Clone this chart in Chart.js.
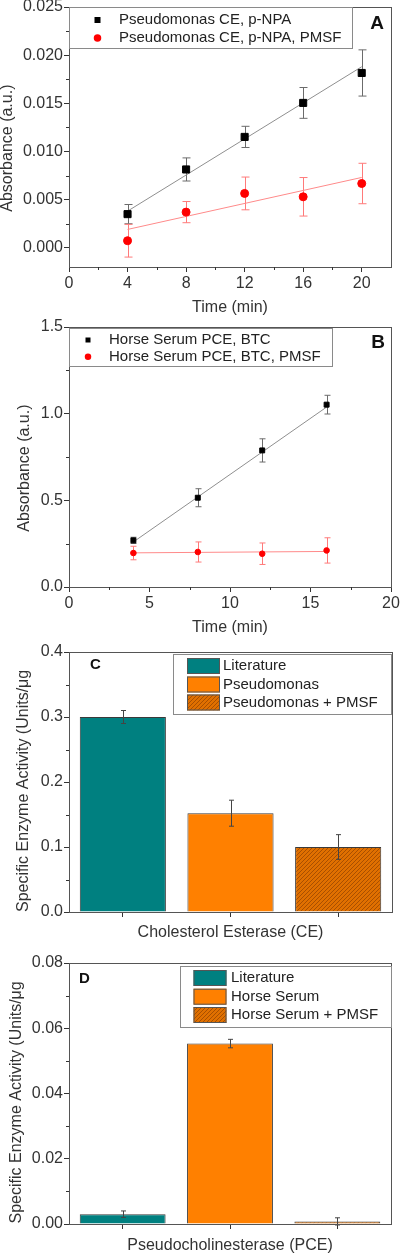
<!DOCTYPE html>
<html>
<head>
<meta charset="utf-8">
<script src="https://cdn.jsdelivr.net/npm/chart.js"></script>
<style>
  html, body { margin: 0; padding: 0; background: #fff; }
  #wrap { position: relative; width: 400px; height: 1254px; overflow: hidden; }
  canvas { position: absolute; left: 0; }
</style>
</head>
<body>
<div id="wrap">
  <canvas id="chartA" width="400" height="318" style="top:0px"></canvas>
  <canvas id="chartB" width="400" height="322" style="top:318px"></canvas>
  <canvas id="chartC" width="400" height="305" style="top:640px"></canvas>
  <canvas id="chartD" width="400" height="309" style="top:945px"></canvas>
</div>
<script>
// ---- panel A : Pseudomonas CE with p-NPA ----
const timeA = [4, 8, 12, 16, 20];
const absA = [0.00349, 0.00813, 0.01151, 0.01504, 0.01815];
const errA = [0.0010, 0.0012, 0.0011, 0.0016, 0.0024];
const absA_pmsf = [0.00073, 0.0037, 0.00564, 0.00529, 0.00667];
const errA_pmsf = [0.0017, 0.0011, 0.0017, 0.0020, 0.0021];
const fitA = [0.0038, 0.0188];        // fitted line at first / last time
const fitA_pmsf = [0.0019, 0.0073];
const xTicksA = [0, 4, 8, 12, 16, 20];
const yTicksA = [0, 0.005, 0.010, 0.015, 0.020, 0.025];

// ---- panel B : horse serum PCE with BTC ----
const timeB = [4, 8, 12, 16];
const absB = [0.269, 0.515, 0.788, 1.052];
const errB = [0.018, 0.052, 0.067, 0.054];
const absB_pmsf = [0.196, 0.202, 0.192, 0.211];
const errB_pmsf = [0.039, 0.058, 0.062, 0.073];
const fitB = [0.26, 1.038];
const fitB_pmsf = [0.197, 0.205];
const xTicksB = [0, 5, 10, 15, 20];
const yTicksB = [0, 0.5, 1.0, 1.5];

// ---- panel C : cholesterol esterase activity ----
const groupsC = ["Literature", "Pseudomonas", "Pseudomonas + PMSF"];
const activityC = [0.300, 0.152, 0.100];
const errC = [0.010, 0.020, 0.019];
const yTicksC = [0, 0.1, 0.2, 0.3, 0.4];

// ---- panel D : pseudocholinesterase activity ----
const groupsD = ["Literature", "Horse Serum", "Horse Serum + PMSF"];
const activityD = [0.0030, 0.0553, 0.0008];
const errD = [0.0010, 0.0013, 0.0011];
const yTicksD = [0, 0.02, 0.04, 0.06, 0.08];

const FONT = '"Liberation Sans", Arial, Helvetica, sans-serif';
const AXIS = "#333";
Chart.defaults.font.family = FONT;
Chart.defaults.color = AXIS;

function hatch() {
  const c = document.createElement("canvas");
  c.width = 4;
  c.height = 4;
  const g = c.getContext("2d");
  g.fillStyle = "#e07000";
  g.fillRect(0, 0, 4, 4);
  g.strokeStyle = "#a84f00";
  g.lineWidth = 1;
  g.beginPath();
  g.moveTo(0, 4); g.lineTo(4, 0);
  g.moveTo(-1, 1); g.lineTo(1, -1);
  g.moveTo(3, 5); g.lineTo(5, 3);
  g.stroke();
  return g.createPattern(c, "repeat");
}

// fixed axis size so the plot boxes line up with each other
function fixAxis(size) {
  return function (scale) {
    if (scale.isHorizontal()) scale.height = size;
    else scale.width = size;
    scale.paddingTop = scale.paddingBottom = 0;
    scale.paddingLeft = scale.paddingRight = 0;
  };
}
function useTicks(values) {
  return function (scale) {
    scale.ticks = values.map((v) => ({ value: v }));
  };
}

function drawErrors(chart, o) {
  const ctx = chart.ctx;
  const yScale = chart.scales.y;
  const cap = o.cap || 6;
  chart.data.datasets.forEach((ds, di) => {
    if (!ds.errors) return;
    const meta = chart.getDatasetMeta(di);
    ds.data.forEach((d, i) => {
      const v = d !== null && typeof d === "object" ? d.y : d;
      if (v === null || v === undefined) return;
      const e = ds.errors[i];
      const x = Math.round(meta.data[i].x) + 0.5;
      const top = yScale.getPixelForValue(v + e);
      const bot = yScale.getPixelForValue(v - e);
      ctx.save();
      ctx.strokeStyle = ds.errorColor || "#555";
      ctx.lineWidth = 1;
      ctx.beginPath();
      ctx.moveTo(x, top); ctx.lineTo(x, bot);
      ctx.moveTo(x - cap / 2, top); ctx.lineTo(x + cap / 2, top);
      ctx.moveTo(x - cap / 2, bot); ctx.lineTo(x + cap / 2, bot);
      ctx.stroke();
      ctx.restore();
    });
  });
}

const errorBars = {
  id: "errorBars",
  beforeDatasetsDraw(chart, args, o) {
    if (o.layer === "back") drawErrors(chart, o);
  },
  afterDatasetsDraw(chart, args, o) {
    if (o.layer === "front") drawErrors(chart, o);
  },
};

// box round the plot plus small minor ticks half way between the majors
const frame = {
  id: "frame",
  afterDraw(chart) {
    const { ctx, chartArea: a } = chart;
    ctx.save();
    ctx.strokeStyle = "#555";
    ctx.lineWidth = 1;
    ctx.strokeRect(Math.round(a.left) + 0.5, Math.round(a.top) + 0.5,
      Math.round(a.right - a.left), Math.round(a.bottom - a.top));
    ctx.strokeStyle = AXIS;
    ["x", "y"].forEach((id) => {
      const s = chart.scales[id];
      if (s.type !== "linear") return;
      const t = s.ticks.map((k) => k.value);
      ctx.beginPath();
      for (let i = 0; i < t.length - 1; i++) {
        const p = Math.round(s.getPixelForValue((t[i] + t[i + 1]) / 2)) + 0.5;
        if (id === "x") {
          ctx.moveTo(p, a.bottom); ctx.lineTo(p, a.bottom + 3);
        } else {
          ctx.moveTo(a.left, p); ctx.lineTo(a.left - 3, p);
        }
      }
      ctx.stroke();
    });
    ctx.restore();
  },
};

const boxLegend = {
  id: "boxLegend",
  afterDraw(chart, args, o) {
    if (!o.box) return;
    const ctx = chart.ctx;
    const [bx, by, bw, bh] = o.box;
    ctx.save();
    ctx.fillStyle = "#fff";
    ctx.fillRect(bx, by, bw, bh);
    ctx.strokeStyle = "#8a8a8a";
    ctx.lineWidth = 1;
    ctx.strokeRect(Math.round(bx) + 0.5, Math.round(by) + 0.5, Math.round(bw), Math.round(bh));
    ctx.font = "15px " + FONT;
    ctx.textBaseline = "middle";
    let row = 0;
    chart.data.datasets.forEach((ds) => {
      if (!ds.label) return;
      const y = o.rows[row++];
      if (o.swatch) {
        const [sw, sh] = o.swatch;
        ctx.fillStyle = ds.backgroundColor;
        ctx.fillRect(o.markerX, y - sh / 2, sw, sh);
        ctx.strokeStyle = "#555";
        ctx.strokeRect(o.markerX + 0.5, y - sh / 2 + 0.5, sw - 1, sh - 1);
      } else if (ds.pointStyle === "rect") {
        ctx.fillStyle = ds.backgroundColor;
        ctx.fillRect(o.markerX - o.square / 2, y - o.square / 2, o.square, o.square);
      } else {
        ctx.fillStyle = ds.backgroundColor;
        ctx.beginPath();
        ctx.arc(o.markerX, y, o.dot / 2, 0, Math.PI * 2);
        ctx.fill();
      }
      ctx.fillStyle = "#222";
      ctx.fillText(ds.label, o.textX, y);
    });
    if (o.tag) {
      ctx.font = "bold " + o.tag.size + "px " + FONT;
      ctx.textAlign = "center";
      ctx.fillStyle = "#111";
      ctx.fillText(o.tag.text, o.tag.x, o.tag.y);
    }
    ctx.restore();
  },
};

Chart.register(errorBars, frame, boxLegend);

function points(xs, ys) {
  return xs.map((x, i) => ({ x: x, y: ys[i] }));
}
function fitLine(xs, ends) {
  return [{ x: xs[0], y: ends[0] }, { x: xs[xs.length - 1], y: ends[1] }];
}

function axisOpts(o) {
  return {
    type: o.type || "linear",
    min: o.min,
    max: o.max,
    afterBuildTicks: o.ticks ? useTicks(o.ticks) : undefined,
    afterFit: fixAxis(o.size),
    border: { color: AXIS, width: 1 },
    grid: { drawOnChartArea: false, tickLength: 5, color: AXIS, offset: false },
    ticks: {
      display: o.labels !== false,
      padding: o.pad,
      font: { size: 16 },
      color: AXIS,
      callback: o.fmt,
    },
    title: {
      display: true,
      text: o.title,
      color: AXIS,
      font: { size: 16, lineHeight: 1 },
      padding: o.titlePad,
    },
  };
}

function scatterChart(id, cfg) {
  return new Chart(document.getElementById(id), {
    type: "scatter",
    data: {
      datasets: [
        {
          label: cfg.names[0],
          data: points(cfg.x, cfg.y1),
          errors: cfg.e1,
          errorColor: "#6b6b6b",
          pointStyle: "rect",
          pointRadius: cfg.sq,
          borderWidth: 1,
          backgroundColor: "#000",
          borderColor: "#000",
        },
        {
          label: cfg.names[1],
          data: points(cfg.x, cfg.y2),
          errors: cfg.e2,
          errorColor: "#ff7a7a",
          pointStyle: "circle",
          pointRadius: cfg.dot,
          borderWidth: 1,
          backgroundColor: "#ff0000",
          borderColor: "#ff0000",
        },
        {
          data: fitLine(cfg.x, cfg.fit1),
          showLine: true,
          pointRadius: 0,
          borderColor: "#8f8f8f",
          borderWidth: 1,
        },
        {
          data: fitLine(cfg.x, cfg.fit2),
          showLine: true,
          pointRadius: 0,
          borderColor: "#ff8a8a",
          borderWidth: 1,
        },
      ],
    },
    options: {
      responsive: false,
      animation: false,
      layout: { padding: cfg.padding },
      plugins: {
        legend: { display: false },
        tooltip: { enabled: false },
        errorBars: { layer: "back", cap: cfg.cap },
        boxLegend: cfg.legend,
      },
      scales: {
        x: axisOpts({
          min: cfg.xRange[0], max: cfg.xRange[1], ticks: cfg.xTicks, size: cfg.xSize,
          pad: 2, fmt: (v) => String(v), title: "Time (min)", titlePad: { bottom: cfg.xTitlePad },
        }),
        y: axisOpts({
          min: cfg.yRange[0], max: cfg.yRange[1], ticks: cfg.yTicks, size: 69,
          pad: 1, fmt: (v) => v.toFixed(cfg.digits),
          title: "Absorbance (a.u.)     ", titlePad: { top: cfg.yTitlePad },
        }),
      },
    },
  });
}

function barChart(id, cfg) {
  const base = ["#008080", "#ff8000", hatch()];
  return new Chart(document.getElementById(id), {
    type: "bar",
    data: {
      labels: cfg.groups,
      datasets: cfg.groups.map((g, i) => ({
        label: g,
        data: cfg.values.map((v, j) => (j === i ? v : null)),
        errors: cfg.errors,
        errorColor: "#444",
        backgroundColor: base[i],
        borderColor: "#3a3a3a",
        borderWidth: 1,
        skipNull: true,
        categoryPercentage: 1.0,
        barPercentage: 0.8,
      })),
    },
    options: {
      responsive: false,
      animation: false,
      layout: { padding: cfg.padding },
      plugins: {
        legend: { display: false },
        tooltip: { enabled: false },
        errorBars: { layer: "front", cap: 5 },
        boxLegend: cfg.legend,
      },
      scales: {
        x: axisOpts({
          type: "category", size: cfg.xSize, labels: false,
          title: cfg.xTitle, titlePad: { bottom: cfg.xTitlePad },
        }),
        y: axisOpts({
          min: cfg.yTicks[0], max: cfg.yTicks[cfg.yTicks.length - 1], ticks: cfg.yTicks,
          size: 69, pad: 1, fmt: (v) => v.toFixed(cfg.digits),
          title: "Specific Enzyme Activity (Units/\u03bcg    ", titlePad: { top: cfg.yTitlePad },
        }),
      },
    },
  });
}

scatterChart("chartA", {
  names: ["Pseudomonas CE, p-NPA", "Pseudomonas CE, p-NPA, PMSF"],
  x: timeA, y1: absA, e1: errA, y2: absA_pmsf, e2: errA_pmsf,
  fit1: fitA, fit2: fitA_pmsf,
  xRange: [0, 22], yRange: [-0.002, 0.025], xTicks: xTicksA, yTicks: yTicksA, digits: 3,
  sq: 5, dot: 4, cap: 8,
  padding: { top: 7, right: 9, bottom: 0, left: 0 },
  xSize: 51, xTitlePad: 2, yTitlePad: 0,
  legend: {
    box: [69, 7, 283, 41], rows: [20, 38], markerX: 97.5, textX: 119, square: 6, dot: 7.5,
    tag: { text: "A", x: 377, y: 24, size: 19 },
  },
});

scatterChart("chartB", {
  names: ["Horse Serum PCE, BTC", "Horse Serum PCE, BTC, PMSF"],
  x: timeB, y1: absB, e1: errB, y2: absB_pmsf, e2: errB_pmsf,
  fit1: fitB, fit2: fitB_pmsf,
  xRange: [0, 20], yRange: [0, 1.5], xTicks: xTicksB, yTicks: yTicksB, digits: 1,
  sq: 3.5, dot: 2.8, cap: 6,
  padding: { top: 9, right: 9, bottom: 0, left: 0 },
  xSize: 53, xTitlePad: 4, yTitlePad: 17,
  legend: {
    box: [69, 10, 263, 38], rows: [22, 38.7], markerX: 88, textX: 109, square: 5, dot: 6.5,
    tag: { text: "B", x: 378, y: 25, size: 19 },
  },
});

barChart("chartC", {
  groups: groupsC, values: activityC, errors: errC, yTicks: yTicksC, digits: 1,
  xTitle: "Cholesterol Esterase (CE)",
  padding: { top: 12, right: 8, bottom: 0, left: 0 },
  xSize: 33, xTitlePad: 4, yTitlePad: 16,
  legend: {
    box: [172.5, 14, 218, 60], rows: [26, 44.5, 62.5], markerX: 187, textX: 223, swatch: [33, 16],
    tag: { text: "C", x: 95.5, y: 24.5, size: 15 },
  },
});

barChart("chartD", {
  groups: groupsD, values: activityD, errors: errD, yTicks: yTicksD, digits: 2,
  xTitle: "Pseudocholinesterase (PCE)",
  padding: { top: 18, right: 9, bottom: 0, left: 0 },
  xSize: 30, xTitlePad: 0, yTitlePad: 9,
  legend: {
    box: [180, 20.5, 211, 60.5], rows: [33, 51.7, 70], markerX: 193.5, textX: 231, swatch: [33, 16],
    tag: { text: "D", x: 84.5, y: 33.5, size: 15 },
  },
});
</script>
</body>
</html>
